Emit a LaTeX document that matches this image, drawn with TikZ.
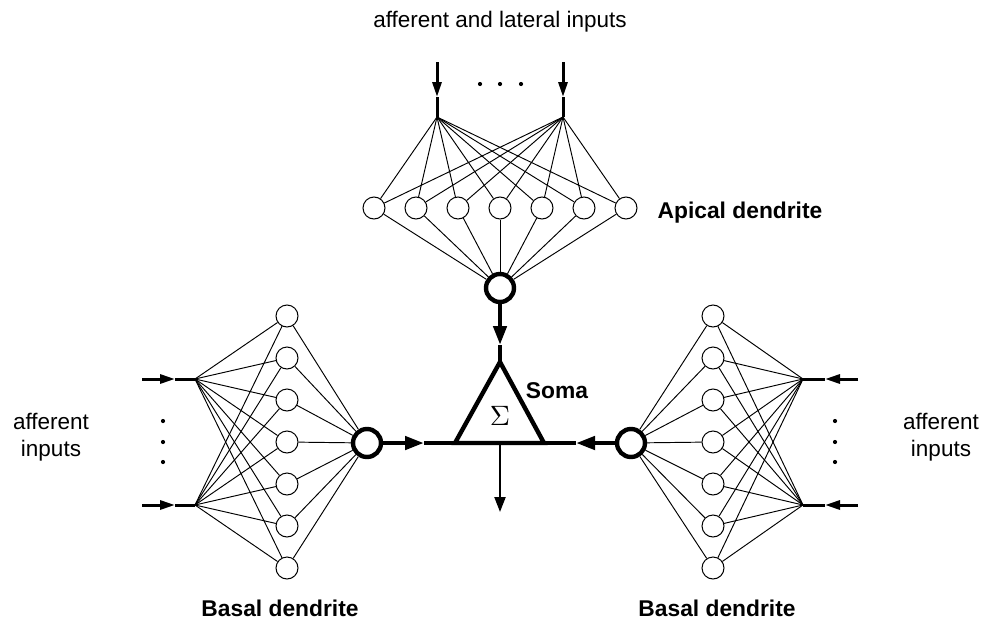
\documentclass[tikz,border=0pt]{standalone}
\usepackage{fontspec}
\setmainfont{Liberation Sans}
\usetikzlibrary{arrows.meta}
\begin{document}
\begin{tikzpicture}[x=1pt,y=-1pt,
  unit/.style={circle,draw,line width=1pt,minimum size=22pt,inner sep=0pt,fill=white},
  hub/.style={circle,draw,line width=4.4pt,minimum size=28pt,inner sep=0pt,fill=white},
  wire/.style={line width=0.95pt},
  feed/.style={line width=3pt},
  trunk/.style={line width=4.4pt},
  smalltip/.style={-{Triangle[length=15pt,width=9pt]}},
  bigtip/.style={-{Triangle[length=19pt,width=13pt]}},
  label/.style={font=\fontsize{22.5}{27}\selectfont},
  title/.style={font=\bfseries\fontsize{22.8}{27}\selectfont},
  dot/.style={circle,fill,inner sep=0pt,minimum size=4.2pt}]
\useasboundingbox (0,0) rectangle (988,632);

% ---------- apical dendrite ----------
\foreach \i in {1,...,7}
  \node[unit] (a\i) at ({500+42*(\i-4)},208) {};
\node[hub] (ahub) at (500,288) {};
\coordinate (ain1) at (437,117);
\coordinate (ain2) at (563,117);
\coordinate (asrc1) at (437,62);
\coordinate (asrc2) at (563,62);
\coordinate (atip1) at (437,97);
\coordinate (atip2) at (563,97);
\foreach \i in {1,...,7} {
  \draw[wire] (ain1) -- (a\i);
  \draw[wire] (ain2) -- (a\i);
  \draw[wire] (a\i) -- (ahub);
}
\foreach \k in {1,2} {
  \draw[feed,smalltip] (asrc\k) -- (atip\k);
  \draw[feed] (atip\k) -- (ain\k);
}
\node[dot] (ad1) at (480,84) {};
\node[dot] (ad2) at (500,84) {};
\node[dot] (ad3) at (521,84) {};

% ---------- left basal dendrite ----------
\foreach \i in {1,...,7}
  \node[unit] (l\i) at (287,{442+42*(\i-4)}) {};
\node[hub] (lhub) at (367,443) {};
\coordinate (lin1) at (195,379);
\coordinate (lin2) at (195,505);
\coordinate (lsrc1) at (142,379);
\coordinate (lsrc2) at (142,505);
\coordinate (ltip1) at (175,379);
\coordinate (ltip2) at (175,505);
\foreach \i in {1,...,7} {
  \draw[wire] (lin1) -- (l\i);
  \draw[wire] (lin2) -- (l\i);
  \draw[wire] (l\i) -- (lhub);
}
\foreach \k in {1,2} {
  \draw[feed,smalltip] (lsrc\k) -- (ltip\k);
  \draw[feed] (ltip\k) -- (lin\k);
}
\node[dot] (ld1) at (163,421) {};
\node[dot] (ld2) at (163,442) {};
\node[dot] (ld3) at (163,462) {};

% ---------- right basal dendrite ----------
\foreach \i in {1,...,7}
  \node[unit] (r\i) at (713,{442+42*(\i-4)}) {};
\node[hub] (rhub) at (631,443) {};
\coordinate (rin1) at (803,379);
\coordinate (rin2) at (803,505);
\coordinate (rsrc1) at (858,379);
\coordinate (rsrc2) at (858,505);
\coordinate (rtip1) at (825,379);
\coordinate (rtip2) at (825,505);
\foreach \i in {1,...,7} {
  \draw[wire] (rin1) -- (r\i);
  \draw[wire] (rin2) -- (r\i);
  \draw[wire] (r\i) -- (rhub);
}
\foreach \k in {1,2} {
  \draw[feed,smalltip] (rsrc\k) -- (rtip\k);
  \draw[feed] (rtip\k) -- (rin\k);
}
\node[dot] (rd1) at (835,421) {};
\node[dot] (rd2) at (835,442) {};
\node[dot] (rd3) at (835,462) {};

% ---------- soma ----------
\coordinate (apex) at (500,362);
\coordinate (sl) at (455,443);
\coordinate (sr) at (544,443);
\coordinate (sb) at (500,443);
\coordinate (out) at (500,512);
\coordinate (dtip) at (500,345);
\coordinate (ltipm) at (424,443);
\coordinate (rtipm) at (576,443);
\draw[trunk,line join=miter] (sl) -- (apex) -- (sr) -- cycle;
\draw[trunk,bigtip] (ahub) -- (dtip);
\draw[trunk] (dtip) -- (apex);
\draw[trunk,bigtip] (lhub) -- (ltipm);
\draw[trunk] (ltipm) -- (sl);
\draw[trunk,bigtip] (rhub) -- (rtipm);
\draw[trunk] (rtipm) -- (sr);
\draw[line width=2.2pt,-{Triangle[length=15pt,width=11pt]}] (sb) -- (out);
\node[scale=2.8,inner sep=0pt] (sigma) at (500,416) {$\Sigma$};

% ---------- labels ----------
\node[label] (top) at (500,22) {afferent and lateral inputs};
\node[label,align=center] (lleft) at (51,437) {afferent\\inputs};
\node[label,align=center] (lright) at (941,437) {afferent\\inputs};
\node[title] (apical) at (740,213) {Apical dendrite};
\node[title] (soma) at (557,391) {Soma};
\node[title] (basl) at (280,608) {Basal dendrite};
\node[title] (basr) at (717,608) {Basal dendrite};
\end{tikzpicture}
\end{document}
